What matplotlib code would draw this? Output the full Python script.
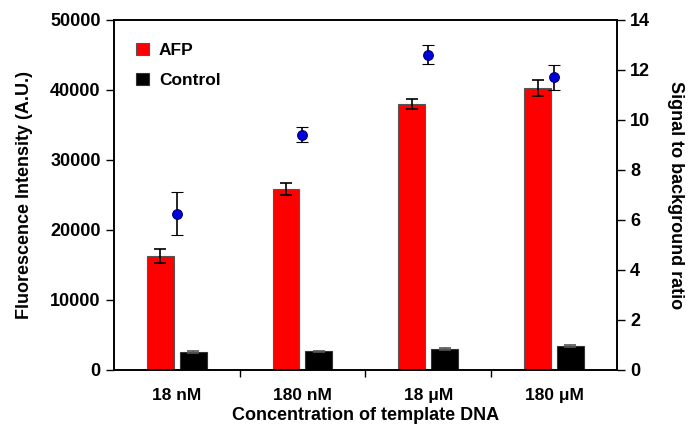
import matplotlib.pyplot as plt
import numpy as np

plt.rcParams['font.family'] = ['Liberation Sans', 'DejaVu Sans']
plt.rcParams['font.weight'] = 'bold'

categories = ["18 nM", "180 nM", "18 \u03bcM", "180 \u03bcM"]
afp = [16300, 25800, 38000, 40300]
afp_err = [1000, 850, 650, 1150]
control = [2600, 2650, 2950, 3400]
control_err = [180, 120, 120, 120]
ratio = [6.25, 9.4, 12.6, 11.7]
ratio_err = [0.85, 0.3, 0.38, 0.5]

x = np.arange(len(categories))
w = 0.214
off = 0.131

fig = plt.figure(figsize=(6.9, 4.34), dpi=100)
ax = fig.add_axes([0.165, 0.1475, 0.729, 0.8065])

ax.bar(x - off, afp, w, color="#ff0000", edgecolor="#555555", linewidth=0.8, label="AFP",
       yerr=afp_err, error_kw=dict(ecolor="black", elinewidth=1.2, capsize=4, capthick=1.2))
ax.bar(x + off, control, w, color="black", edgecolor="#333333", linewidth=0.8, label="Control",
       yerr=control_err, error_kw=dict(ecolor="#555555", elinewidth=1.2, capsize=4, capthick=1.2))

ax.set_xlim(-0.5, 3.5)
ax.set_ylim(0, 50000)
ax.set_yticks(np.arange(0, 50001, 10000))
ax.set_xticks(x)
ax.set_xticklabels(categories, fontsize=12.5, fontweight="bold")
ax.set_xticks(np.arange(0.5, 3.5, 1), minor=True)
ax.tick_params(axis="x", which="major", length=0, pad=13)
ax.tick_params(axis="x", which="minor", length=5, width=1)
ax.tick_params(axis="y", length=6, width=1, labelsize=13)
for lab in ax.get_yticklabels():
    lab.set_fontweight("bold")
ax.set_ylabel("Fluorescence Intensity (A.U.)", fontsize=13, fontweight="bold", labelpad=12)
ax.set_xlabel("Concentration of template DNA", fontsize=13, fontweight="bold", labelpad=3)

ax2 = ax.twinx()
ax2.errorbar(x, ratio, yerr=ratio_err, fmt="o", color="#0000dd", markersize=7,
             markeredgecolor="#00006a", markeredgewidth=0.8, ecolor="black",
             elinewidth=1.2, capsize=4, capthick=1.2)
ax2.set_ylim(0, 14)
ax2.set_yticks(np.arange(0, 15, 2))
ax2.tick_params(axis="y", length=6, width=1, labelsize=13)
for lab in ax2.get_yticklabels():
    lab.set_fontweight("bold")
ax2.set_ylabel("Signal to background ratio", fontsize=13, fontweight="bold",
               rotation=-90, labelpad=24)

for a in (ax, ax2):
    for s in a.spines.values():
        s.set_linewidth(1.2)

ax.legend(loc="upper left", frameon=False, fontsize=12.5, handlelength=0.7, handleheight=0.7,
          handletextpad=0.6, labelspacing=0.9, bbox_to_anchor=(0.0, 1.0), borderaxespad=0.9)

fig.savefig("out.png", dpi=100)
